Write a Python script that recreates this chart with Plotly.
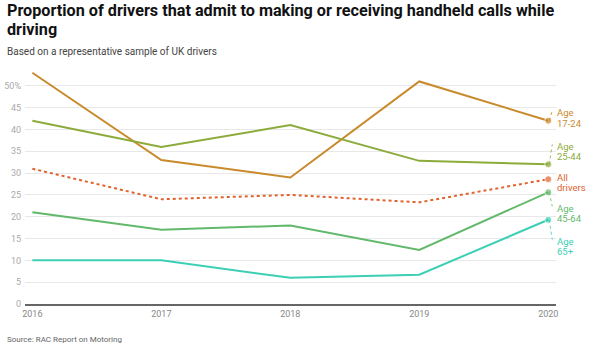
import plotly.graph_objects as go

# ---- data ----
years = [2016, 2017, 2018, 2019, 2020]
x_tick_text = ["2016", "2017", "2018", "2019", "2020"]
series_names = ["Age 17-24", "Age 25-44", "All drivers", "Age 45-64", "Age 65+"]
age_17_24 = [53, 33, 29, 51, 42]
age_25_44 = [42, 36, 41, 32.8, 32]
all_drivers = [31, 24, 25, 23.3, 28.6]
age_45_64 = [21, 17, 18, 12.4, 25.6]
age_65_plus = [10, 10, 6, 6.7, 19.3]
y_tick_vals = [0, 5, 10, 15, 20, 25, 30, 35, 40, 45, 50]
y_tick_text = ["0", "5", "10", "15", "20", "25", "30", "35", "40", "45", "50%"]
label_lines = [["Age", "17-24"], ["Age", "25-44"], ["All", "drivers"], ["Age", "45-64"], ["Age", "65+"]]

# ---- style ----
colors = ["#c98a2c", "#8cab3b", "#e0622e", "#63b96b", "#3ccfb5"]
dashes = ["solid", "solid", "dot", "solid", "solid"]
label_dy = [[-8, 3], [-18, -8], [-2, 8], [16, 26], [22, 32]]
connectors = [(4, 10), (4, 20), None, (4, -14), (4, -20)]

FONT = "Roboto"
W, H = 600, 350
M = dict(l=25, r=44, t=64, b=46)

def paper_y(py):
    return (H - M["b"] - py) / (H - M["t"] - M["b"])

def paper_x(px):
    return (px - M["l"]) / (W - M["l"] - M["r"])

all_series = [age_17_24, age_25_44, all_drivers, age_45_64, age_65_plus]

fig = go.Figure()
for name, vals, c, d in zip(series_names, all_series, colors, dashes):
    sizes = [0] * (len(vals) - 1) + [7]
    fig.add_trace(go.Scatter(
        x=years, y=vals, name=name, mode="lines+markers",
        line=dict(color=c, width=2, dash=d),
        marker=dict(size=sizes, color=c),
        cliponaxis=False, hoverinfo="x+y+name",
    ))

annotations = []
shapes = []
for vals, c, lines, dys, conn in zip(all_series, colors, label_lines, label_dy, connectors):
    for txt, dy in zip(lines, dys):
        annotations.append(dict(
            x=years[-1], y=vals[-1], xref="x", yref="y", text=txt,
            showarrow=False, xanchor="left", yanchor="middle",
            xshift=7, yshift=-dy, font=dict(family=FONT, size=9.5, color=c),
        ))
    if conn is not None:
        shapes.append(dict(
            type="line", xref="x", yref="y",
            xsizemode="pixel", ysizemode="pixel",
            xanchor=years[-1], yanchor=vals[-1],
            x0=1, y0=0, x1=conn[0], y1=conn[1],
            line=dict(color=c, width=1, dash="dot"), opacity=0.8,
        ))

annotations += [
    dict(xref="paper", yref="paper", x=paper_x(5), y=paper_y(10.5), xanchor="left", yanchor="middle",
         text="Proportion of drivers that admit to making or receiving handheld calls while",
         showarrow=False, font=dict(family=FONT, size=16.2, color="#111", weight="bold")),
    dict(xref="paper", yref="paper", x=paper_x(5), y=paper_y(29.5), xanchor="left", yanchor="middle",
         text="driving",
         showarrow=False, font=dict(family=FONT, size=16.2, color="#111", weight="bold")),
    dict(xref="paper", yref="paper", x=paper_x(5), y=paper_y(52), xanchor="left", yanchor="middle",
         text="Based on a representative sample of UK drivers",
         showarrow=False, font=dict(family=FONT, size=10, color="#444")),
    dict(xref="paper", yref="paper", x=paper_x(5), y=paper_y(339), xanchor="left", yanchor="middle",
         text="Source: RAC Report on Motoring",
         showarrow=False, font=dict(family=FONT, size=8, color="#666")),
]

fig.update_layout(
    width=W, height=H, margin=M,
    paper_bgcolor="white", plot_bgcolor="white",
    showlegend=False,
    font=dict(family=FONT, size=9, color="#999"),
    annotations=annotations, shapes=shapes,
    xaxis=dict(range=[2015.943, 2020.06], tickvals=years, ticktext=x_tick_text,
               showgrid=False, zeroline=False, showline=True, linecolor="#666", linewidth=1.5,
               ticks="", automargin=False,
               tickfont=dict(family=FONT, size=9, color="#888"), fixedrange=True),
    yaxis=dict(range=[0, 55], tickvals=y_tick_vals, ticktext=y_tick_text,
               showgrid=True, gridcolor="#e8e8e8", gridwidth=1, zeroline=False,
               ticks="", ticklabelstandoff=3, automargin=False,
               tickfont=dict(family=FONT, size=9, color="#aaa"), fixedrange=True),
)

fig.write_html("out.html")
